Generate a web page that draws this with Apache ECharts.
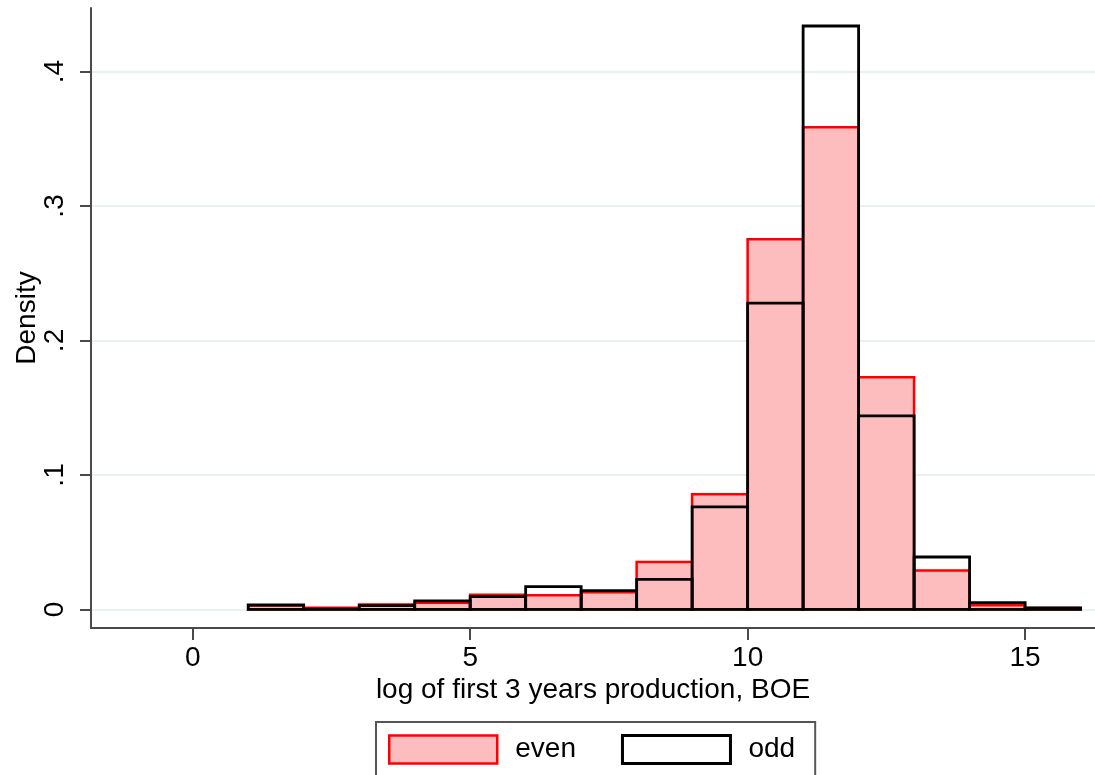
<!DOCTYPE html>
<html>
<head>
<meta charset="utf-8">
<style>
  html, body { margin: 0; padding: 0; background: #fff; }
  #chart { width: 1095px; height: 775px; }
</style>
<script src="https://cdn.jsdelivr.net/npm/echarts@6/dist/echarts.min.js"></script>
</head>
<body>
<div id="chart"></div>
<script>
// Histogram bins (log of first 3 years production, BOE), width 1
const binStarts = [1, 2, 3, 4, 5, 6, 7, 8, 9, 10, 11, 12, 13, 14, 15];
const binWidth = 1;
// Density per bin
const evenDensity = [0.0030, 0.0012, 0.0036, 0.0050, 0.0110, 0.0105, 0.0128, 0.0353, 0.0856, 0.2753, 0.3585, 0.1726, 0.0289, 0.0031, 0.0010];
const oddDensity  = [0.0033, 0.0003, 0.0028, 0.0063, 0.0095, 0.0170, 0.0140, 0.0224, 0.0762, 0.2277, 0.4338, 0.1439, 0.0390, 0.0050, 0.0011];
const xTicks = [0, 5, 10, 15];
const yTicks = [0, 0.1, 0.2, 0.3, 0.4];

const FONT = "'Liberation Sans', Arial, Helvetica, sans-serif";
const FONT_SIZE = 28;
const AXIS_COLOR = '#4a4a4a';

function binData(values) {
  return binStarts.map((s, i) => [s, s + binWidth, values[i]]);
}

function barRenderer(fill, stroke, lineWidth) {
  return function (params, api) {
    const topLeft = api.coord([api.value(0), api.value(2)]);
    const bottomRight = api.coord([api.value(1), 0]);
    return {
      type: 'rect',
      shape: {
        x: topLeft[0],
        y: topLeft[1],
        width: bottomRight[0] - topLeft[0],
        height: bottomRight[1] - topLeft[1]
      },
      style: { fill: fill, stroke: stroke, lineWidth: lineWidth }
    };
  };
}

function yLabel(v) {
  return v === 0 ? '0' : v.toFixed(1).replace(/^0/, '');
}

const chart = echarts.init(document.getElementById('chart'), null, { renderer: 'canvas' });
chart.setOption({
  animation: false,
  backgroundColor: '#ffffff',
  textStyle: { fontFamily: FONT },
  grid: { left: 91, right: 0, top: 8, bottom: 147, containLabel: false, outerBoundsMode: 'none' },
  xAxis: {
    type: 'value',
    min: -1.833,
    max: 16.26,
    name: 'log of first 3 years production, BOE',
    nameLocation: 'middle',
    nameGap: 48,
    nameMoveOverlap: false,
    nameTextStyle: { fontSize: FONT_SIZE, color: '#000', fontFamily: FONT },
    axisLine: { show: true, onZero: false, lineStyle: { color: AXIS_COLOR, width: 2 } },
    axisTick: { show: true, length: 12, customValues: xTicks, lineStyle: { color: AXIS_COLOR, width: 2 } },
    axisLabel: { customValues: xTicks, fontSize: FONT_SIZE, color: '#000', margin: 16, fontFamily: FONT },
    splitLine: { show: false }
  },
  yAxis: {
    type: 'value',
    min: -0.0138,
    max: 0.4472,
    name: 'Density',
    nameLocation: 'middle',
    nameRotate: 90,
    nameGap: 50,
    nameMoveOverlap: false,
    nameTextStyle: { fontSize: FONT_SIZE, color: '#000', fontFamily: FONT },
    axisLine: { show: true, onZero: false, lineStyle: { color: AXIS_COLOR, width: 2 } },
    axisTick: { show: true, length: 11, customValues: yTicks, lineStyle: { color: AXIS_COLOR, width: 2 } },
    axisLabel: { customValues: yTicks, rotate: 90, fontSize: FONT_SIZE, color: '#000', margin: 22, formatter: yLabel, fontFamily: FONT },
    splitLine: { show: true, lineStyle: { color: '#e8f0f2', width: 2 } }
  },
  legend: {
    left: 376,
    top: 722,
    orient: 'horizontal',
    padding: [12, 20, 12, 12],
    borderColor: '#555555',
    borderWidth: 2,
    itemWidth: 108,
    itemHeight: 28,
    itemGap: 45,
    textStyle: { fontSize: FONT_SIZE, color: '#000', fontFamily: FONT, padding: [0, 0, 0, 13] },
    data: [
      { name: 'even', icon: 'rect', itemStyle: { color: '#fdbcbe', borderColor: '#ff0000', borderWidth: 2.5 } },
      { name: 'odd', icon: 'rect', itemStyle: { color: '#ffffff', borderColor: '#000000', borderWidth: 3 } }
    ]
  },
  series: [
    {
      name: 'even',
      type: 'custom',
      encode: { x: [0, 1], y: 2 },
      data: binData(evenDensity),
      itemStyle: { color: '#fdbcbe', borderColor: '#ff0000' },
      renderItem: barRenderer('#fdbcbe', '#ff0000', 2.5)
    },
    {
      name: 'odd',
      type: 'custom',
      encode: { x: [0, 1], y: 2 },
      data: binData(oddDensity),
      itemStyle: { color: '#ffffff', borderColor: '#000000' },
      renderItem: barRenderer(null, '#000000', 2.8)
    }
  ]
});
</script>
</body>
</html>
